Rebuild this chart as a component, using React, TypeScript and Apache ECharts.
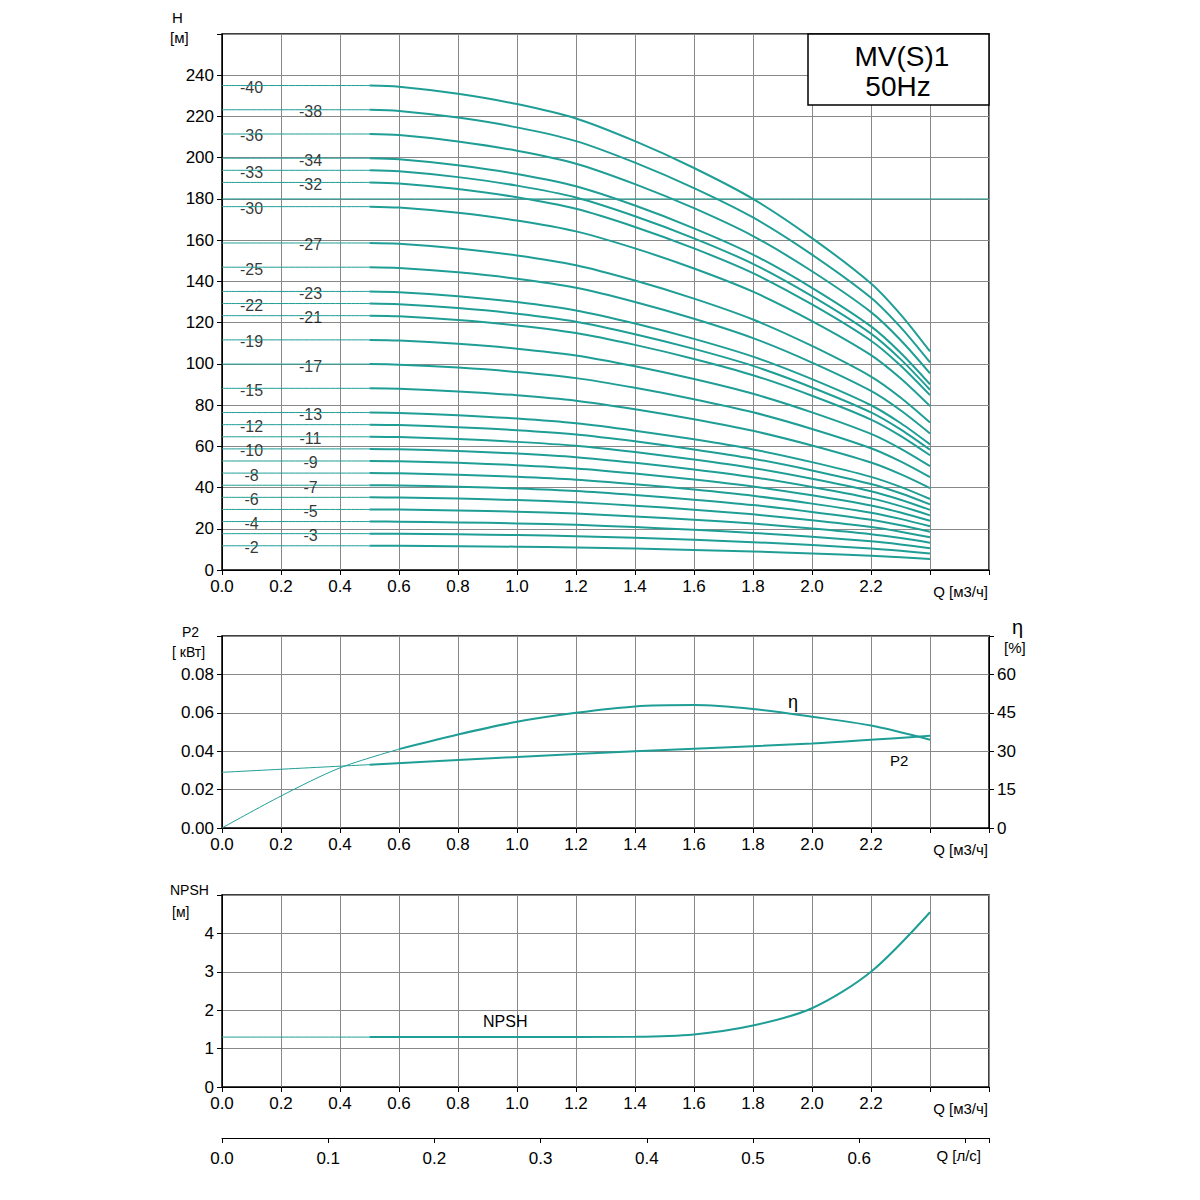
import { useEffect, useRef } from "react";
import * as echarts from "echarts";

// head per stage
const qFlow = [0.5, 0.6, 0.8, 1.0, 1.2, 1.4, 1.6, 1.8, 2.0, 2.2, 2.3, 2.4];
const headPerStage = [5.875, 5.86, 5.775, 5.65, 5.475, 5.2, 4.875, 4.5, 4.025, 3.475, 3.1, 2.65];
const stages = [40, 38, 36, 34, 33, 32, 30, 27, 25, 23, 22, 21, 19, 17, 15, 13, 12, 11, 10, 9, 8, 7, 6, 5, 4, 3, 2];
const labelQ = [0.1, 0.3];

const p2Thin = [[0, 0.029], [0.5, 0.033]];
const p2Thick = [[0.5, 0.033], [1.0, 0.037], [1.4, 0.04], [2.0, 0.044], [2.4, 0.048]];
const etaThin = [[0, 0], [0.2, 12.5], [0.4, 23.5], [0.6, 30.8]];
const etaThick = [[0.6, 30.8], [0.8, 36.5], [1.0, 41.5], [1.2, 45], [1.4, 47.5], [1.6, 48], [1.8, 46.5], [2.0, 43.5], [2.2, 40], [2.4, 34.5]];
const npshThin = [[0, 1.3], [0.5, 1.3]];
const npshThick = [[0.5, 1.3], [1.0, 1.3], [1.4, 1.31], [1.6, 1.37], [1.8, 1.6], [2.0, 2.05], [2.2, 3.0], [2.4, 4.55]];

const TEAL = "#1f9e96";
const FONT = "Liberation Sans";

const App = () => {
  const ref = useRef<HTMLDivElement>(null);
  useEffect(() => {
    const chart = echarts.init(ref.current!, null, { renderer: "svg" });
    const tick = (max: number, dec: number) => (v: number) => (v > max + 1e-9 ? "" : v.toFixed(dec));
    const xAx = (gi: number) => ({
      type: "value", gridIndex: gi, min: 0, max: 2.6, interval: 0.2,
      axisLine: { lineStyle: { color: "#000" } },
      axisTick: { show: true, length: 5, lineStyle: { color: "#000" } },
      axisLabel: { color: "#000", fontSize: 17, fontFamily: FONT, formatter: tick(2.2, 1) },
      splitLine: { show: true, lineStyle: { color: "#888", width: 1 } },
    });
    const yAx = (gi: number, max: number, interval: number, shown: number, dec: number, pos = "left", split = true) => ({
      type: "value", gridIndex: gi, min: 0, max, interval, position: pos,
      axisLine: { show: true, lineStyle: { color: "#000" } },
      axisTick: { show: true, length: 5, lineStyle: { color: "#000" } },
      axisLabel: { color: "#000", fontSize: 17, fontFamily: FONT, formatter: tick(shown, dec) },
      splitLine: { show: split, lineStyle: { color: "#888", width: 1 } },
    });
    const line = (data: number[][], w: number, xi: number, yi: number) => ({
      type: "line", data, xAxisIndex: xi, yAxisIndex: yi, symbol: "none", smooth: 0.3,
      lineStyle: { color: TEAL, width: w }, silent: true,
    });
    const series: any[] = [];
    stages.forEach((n) => {
      series.push(line([[0, n * headPerStage[0]], [0.5, n * headPerStage[0]]], 1, 0, 0));
      series.push(line(qFlow.map((q, i) => [q, n * headPerStage[i]]), 2, 0, 0));
    });
    series.push(line([[0, 180], [2.6, 180]], 1, 0, 0));
    series.push({
      type: "scatter", xAxisIndex: 0, yAxisIndex: 0, symbolSize: 0,
      data: stages.map((n, i) => ({ value: [labelQ[i % 2], n * headPerStage[0]], name: "-" + n })),
      label: { show: true, position: "inside", formatter: "{b}", color: "#000", fontSize: 16, fontFamily: FONT, offset: [0, 2] },
    });
    series.push(line(p2Thin, 1, 1, 1), line(p2Thick, 2, 1, 1));
    series.push(line(etaThin, 1, 1, 2), line(etaThick, 2, 1, 2));
    series.push(line(npshThin, 1, 2, 3), line(npshThick, 2, 2, 3));

    const txt = (x: number, y: number, text: string, size = 15, align = "left") => ({
      type: "text", x, y, z: 100,
      style: { text, fill: "#000", font: `${size}px ${FONT}`, textAlign: align as any, textVerticalAlign: "top" as any },
    });
    chart.setOption({
      animation: false,
      grid: [
        { left: 222, width: 767, top: 34, height: 536, show: true, borderColor: "#000", borderWidth: 1.5 },
        { left: 222, width: 767, top: 636, height: 192, show: true, borderColor: "#000", borderWidth: 1.5 },
        { left: 222, width: 767, top: 895, height: 192, show: true, borderColor: "#000", borderWidth: 1.5 },
        { left: 222, width: 767, top: 1137, height: 1 },
      ],
      xAxis: [
        xAx(0), xAx(1), xAx(2),
        {
          type: "value", gridIndex: 3, min: 0, max: 2.6 / 3.6, interval: 0.1,
          axisLine: { lineStyle: { color: "#000" } },
          axisTick: { show: true, length: 5, lineStyle: { color: "#000" } },
          axisLabel: { color: "#000", fontSize: 17, fontFamily: FONT, formatter: tick(0.6, 1), margin: 12 },
          splitLine: { show: false },
        },
      ],
      yAxis: [
        yAx(0, 260, 20, 240, 0),
        yAx(1, 0.1, 0.02, 0.08, 2),
        yAx(1, 75, 15, 60, 0, "right", false),
        yAx(2, 5, 1, 4, 0),
        { type: "value", gridIndex: 3, show: false },
      ],
      series,
      graphic: [
        { type: "rect", z: 99, shape: { x: 808, y: 34, width: 181, height: 71 }, style: { fill: "#fff", stroke: "#000", lineWidth: 1.5 } },
        txt(902, 42, "MV(S)1", 28, "center"),
        txt(898, 72, "50Hz", 28, "center"),
        txt(172, 10, "H", 15), txt(170, 30, "[м]", 15),
        txt(182, 625, "P2", 14), txt(172, 645, "[ кВт]", 14),
        txt(1012, 617, "η", 20), txt(1004, 640, "[%]", 15),
        txt(170, 883, "NPSH", 14), txt(172, 905, "[м]", 14),
        txt(988, 584, "Q [м3/ч]", 15, "right"),
        txt(988, 842, "Q [м3/ч]", 15, "right"),
        txt(988, 1101, "Q [м3/ч]", 15, "right"),
        txt(981, 1148, "Q [л/с]", 15, "right"),
        txt(788, 693, "η", 18), txt(890, 753, "P2", 15), txt(483, 1013, "NPSH", 16),
      ],
    });
    return () => chart.dispose();
  }, []);
  return <div ref={ref} style={{ position: "fixed", left: 0, top: 0, width: 1200, height: 1200, background: "#fff" }} />;
};

export default App;
